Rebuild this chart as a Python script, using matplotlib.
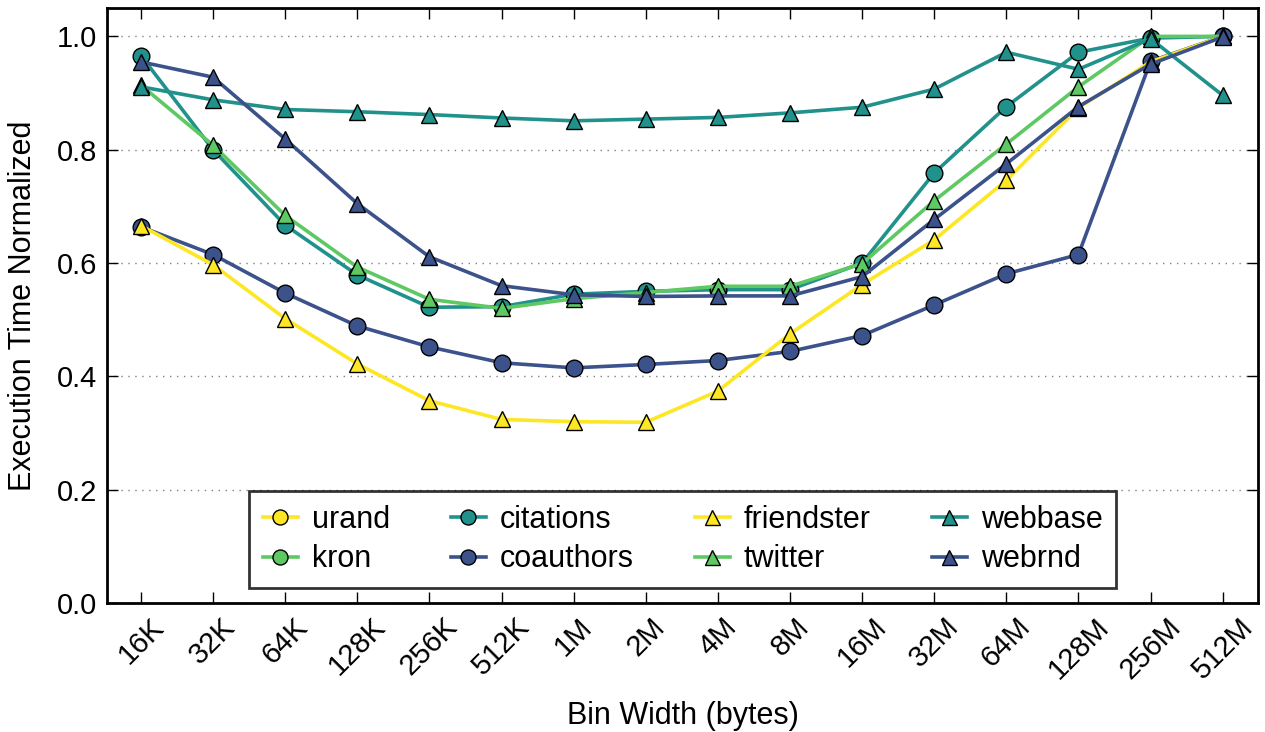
import numpy as np
import matplotlib
matplotlib.use("Agg")
import matplotlib.pyplot as plt

plt.rcParams['font.family'] = ['Liberation Sans', 'DejaVu Sans']

# bin widths on the x axis
bin_labels = ['16K', '32K', '64K', '128K', '256K', '512K', '1M', '2M', '4M',
              '8M', '16M', '32M', '64M', '128M', '256M', '512M']

nan = np.nan
# normalized execution time per graph (urand and kron have no runs)
urand = [nan] * 16
kron = [nan] * 16
citations = [0.966, 0.800, 0.667, 0.579, 0.522, 0.523, 0.545, 0.550, 0.553,
             0.553, 0.600, 0.759, 0.876, 0.972, 0.997, 1.000]
coauthors = [0.664, 0.615, 0.547, 0.489, 0.452, 0.424, 0.415, 0.421, 0.428,
             0.444, 0.472, 0.526, 0.581, 0.615, 0.956, 1.000]
friendster = [0.666, 0.597, 0.502, 0.422, 0.357, 0.324, 0.320, 0.319, 0.374,
              0.475, 0.562, 0.641, 0.746, 0.874, 0.955, 1.000]
twitter = [0.914, 0.808, 0.684, 0.593, 0.536, 0.520, 0.537, 0.548, 0.559,
           0.559, 0.599, 0.710, 0.810, 0.911, 1.000, 1.000]
webbase = [0.911, 0.888, 0.871, 0.867, 0.862, 0.856, 0.851, 0.854, 0.857,
           0.865, 0.875, 0.907, 0.972, 0.942, 0.996, 0.896]
webrnd = [0.955, 0.928, 0.819, 0.705, 0.611, 0.560, 0.544, 0.541, 0.542,
          0.542, 0.576, 0.677, 0.775, 0.876, 0.951, 0.999]

yellow = '#fde725'
green = '#5ec962'
teal = '#21918c'
navy = '#3b528b'

series = [
    ('urand', urand, yellow, 'o'),
    ('kron', kron, green, 'o'),
    ('citations', citations, teal, 'o'),
    ('coauthors', coauthors, navy, 'o'),
    ('friendster', friendster, yellow, '^'),
    ('twitter', twitter, green, '^'),
    ('webbase', webbase, teal, '^'),
    ('webrnd', webrnd, navy, '^'),
]

fig = plt.figure(figsize=(12.65, 7.32), dpi=100)
ax = fig.add_axes([0.0846, 0.1762, 0.9099, 0.8128])

x = np.arange(len(bin_labels))
for name, vals, col, mk in series:
    ax.plot(x, vals, color=col, marker=mk, markersize=12, linewidth=2.6,
            markeredgecolor='black', markeredgewidth=1.0, label=name)

ax.set_xlim(-0.47, 15.49)
ax.set_ylim(0, 1.05)
ax.set_xticks(x)
ax.set_xticklabels(bin_labels, rotation=45, fontsize=21)
ax.set_yticks([0.0, 0.2, 0.4, 0.6, 0.8, 1.0])
ax.set_yticklabels(['0.0', '0.2', '0.4', '0.6', '0.8', '1.0'], fontsize=21)
ax.tick_params(direction='in', length=8, width=1, top=True, right=True,
               pad=7)
for sp in ax.spines.values():
    sp.set_linewidth(2)

ax.yaxis.grid(True, linestyle=(0, (1, 4)), color='gray', linewidth=1)
ax.set_axisbelow(True)

ax.set_xlabel('Bin Width (bytes)', fontsize=22)
ax.set_ylabel('Execution Time Normalized', fontsize=22)
ax.yaxis.set_label_coords(-0.06, 0.5)
ax.xaxis.set_label_coords(0.5, -0.165)

leg = ax.legend(ncol=4, loc='lower center', bbox_to_anchor=(0.5, 0.025),
                borderaxespad=0, fontsize=22, fancybox=False,
                edgecolor='black', handlelength=1.15, markerscale=0.9,
                columnspacing=2.0, handletextpad=0.45, labelspacing=0.32,
                borderpad=0.45)
leg.get_frame().set_linewidth(2)

fig.savefig('out.png', dpi=100)
